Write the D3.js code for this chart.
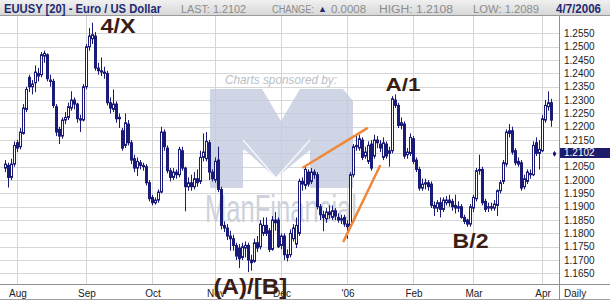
<!DOCTYPE html>
<html lang="en">
<head>
<meta charset="UTF-8">
<title>EUUSY - Euro / US Dollar</title>
<script src="https://cdn.jsdelivr.net/npm/d3@7"></script>
<style>
  body { margin: 0; background: #fff; }
  svg { display: block; font-family: Arial, "Liberation Sans", sans-serif; }
</style>
</head>
<body>
<svg id="chart" width="610" height="300"></svg>
<script>
// daily candles, 26 Jul 2005 .. 7 Apr 2006
const opens = [
  1.2045,1.2055,1.2010,1.2060,1.2140,1.2125,1.2175,1.2265,1.2385,1.2350,
  1.2365,1.2400,1.2395,1.2465,1.2470,1.2375,1.2370,1.2275,1.2190,1.2165,
  1.2225,1.2235,1.2270,1.2300,1.2285,1.2230,1.2225,1.2350,1.2500,1.2530,
  1.2540,1.2420,1.2410,1.2405,1.2400,1.2290,1.2265,1.2285,1.2230,1.2185,
  1.2130,1.2210,1.2140,1.2080,1.2045,1.2065,1.2055,1.2050,1.1990,1.1935,
  1.1915,1.1925,1.1955,1.2180,1.2120,1.2035,1.2010,1.2030,1.2020,1.2110,
  1.2045,1.1975,1.1990,1.1975,1.2005,1.1995,1.2085,1.2080,1.2140,1.2030,
  1.2000,1.2075,1.1965,1.1830,1.1820,1.1790,1.1780,1.1755,1.1745,1.1710,
  1.1745,1.1755,1.1700,1.1695,1.1765,1.1750,1.1800,1.1830,1.1810,1.1740,
  1.1850,1.1850,1.1755,1.1790,1.1720,1.1720,1.1780,1.1760,1.1800,1.1995,
  1.1980,1.2030,1.1995,1.2030,1.2020,1.1900,1.1870,1.1855,1.1880,1.1860,
  1.1885,1.1860,1.1850,1.1860,1.1835,1.1830,1.2020,1.2125,1.2120,1.2150,
  1.2090,1.2070,1.2135,1.2090,1.2150,1.2135,1.2085,1.2135,1.2100,1.2110,
  1.2300,1.2280,1.2205,1.2210,1.2095,1.2100,1.2155,1.2075,1.2040,1.1970,
  1.1985,1.1990,1.1985,1.1905,1.1895,1.1915,1.1890,1.1915,1.1925,1.1920,
  1.1905,1.1900,1.1900,1.1860,1.1850,1.1835,1.1895,1.1930,1.2035,1.2040,
  1.1920,1.1895,1.1900,1.1895,1.1905,1.1960,1.1995,1.2060,1.2175,1.2185,
  1.2110,1.2070,1.2065,1.1975,1.1995,1.2025,1.2020,1.2140,1.2100,1.2110,
  1.2225,1.2275,1.2290,1.2095
];
const highs = [
  1.2075,1.2065,1.2080,1.2145,1.2150,1.2195,1.2285,1.2350,1.2395,1.2375,
  1.2430,1.2420,1.2480,1.2485,1.2475,1.2395,1.2380,1.2285,1.2200,1.2235,
  1.2255,1.2290,1.2333,1.2310,1.2290,1.2245,1.2360,1.2510,1.2570,1.2590,
  1.2555,1.2440,1.2460,1.2425,1.2410,1.2310,1.2340,1.2295,1.2250,1.2195,
  1.2250,1.2225,1.2150,1.2095,1.2085,1.2075,1.2065,1.2060,1.2000,1.1945,
  1.1935,1.1965,1.2200,1.2190,1.2130,1.2045,1.2045,1.2040,1.2125,1.2125,
  1.2050,1.2010,1.2020,1.2030,1.2040,1.2110,1.2175,1.2180,1.2150,1.2040,
  1.2085,1.2125,1.1975,1.1845,1.1835,1.1810,1.1795,1.1765,1.1760,1.1765,
  1.1770,1.1765,1.1720,1.1780,1.1790,1.1850,1.1860,1.1860,1.1820,1.1865,
  1.1880,1.1860,1.1800,1.1800,1.1740,1.1815,1.1835,1.1860,1.2005,1.2010,
  1.2050,1.2040,1.2045,1.2040,1.2030,1.1910,1.1885,1.1895,1.1905,1.1905,
  1.1895,1.1875,1.1870,1.1870,1.1850,1.2030,1.2135,1.2165,1.2170,1.2160,
  1.2125,1.2145,1.2150,1.2170,1.2165,1.2150,1.2160,1.2145,1.2125,1.2315,
  1.2321,1.2290,1.2235,1.2220,1.2120,1.2175,1.2165,1.2085,1.2050,1.2005,
  1.2005,1.2000,1.1995,1.1920,1.1925,1.1935,1.1935,1.1940,1.1945,1.1930,
  1.1945,1.1920,1.1910,1.1870,1.1855,1.1910,1.1945,1.2045,1.2095,1.2050,
  1.1930,1.1915,1.1915,1.1925,1.1965,1.2000,1.2075,1.2190,1.2210,1.2200,
  1.2120,1.2085,1.2075,1.2020,1.2040,1.2040,1.2145,1.2160,1.2150,1.2245,
  1.2300,1.2333,1.2305,1.2108
];
const lows = [
  1.2030,1.1972,1.2000,1.2050,1.2105,1.2115,1.2170,1.2255,1.2330,1.2321,
  1.2330,1.2370,1.2385,1.2440,1.2370,1.2350,1.2270,1.2165,1.2135,1.2155,
  1.2210,1.2225,1.2260,1.2265,1.2215,1.2180,1.2220,1.2340,1.2485,1.2510,
  1.2410,1.2395,1.2390,1.2380,1.2280,1.2250,1.2255,1.2215,1.2195,1.2110,
  1.2120,1.2130,1.2060,1.2030,1.2015,1.2040,1.2035,1.1980,1.1920,1.1905,
  1.1908,1.1915,1.1950,1.2110,1.2025,1.1995,1.2000,1.2005,1.2010,1.2035,
  1.1883,1.1960,1.1960,1.1965,1.1975,1.1985,1.2070,1.2070,1.2000,1.1995,
  1.1990,1.1955,1.1815,1.1805,1.1775,1.1735,1.1735,1.1700,1.1670,1.1700,
  1.1710,1.1655,1.1660,1.1690,1.1730,1.1740,1.1790,1.1790,1.1730,1.1735,
  1.1810,1.1745,1.1740,1.1700,1.1695,1.1710,1.1770,1.1745,1.1790,1.1960,
  1.1965,1.1975,1.1985,1.2005,1.1890,1.1850,1.1808,1.1840,1.1855,1.1850,
  1.1850,1.1840,1.1835,1.1825,1.1780,1.1820,1.2010,1.2110,1.2110,1.2075,
  1.2080,1.2060,1.2035,1.2080,1.2120,1.2105,1.2075,1.2080,1.2050,1.2100,
  1.2270,1.2195,1.2190,1.2080,1.2080,1.2090,1.2060,1.2030,1.1960,1.1960,
  1.1965,1.1960,1.1895,1.1865,1.1880,1.1860,1.1880,1.1905,1.1900,1.1885,
  1.1875,1.1880,1.1855,1.1835,1.1825,1.1825,1.1880,1.1920,1.2020,1.1905,
  1.1880,1.1880,1.1885,1.1885,1.1865,1.1950,1.1985,1.2050,1.2160,1.2095,
  1.2055,1.2050,1.1960,1.1965,1.1985,1.2005,1.2015,1.2090,1.2040,1.2105,
  1.2215,1.2260,1.2200,1.2089
];
const closes = [
  1.2060,1.2010,1.2060,1.2130,1.2120,1.2180,1.2270,1.2340,1.2350,1.2360,
  1.2405,1.2390,1.2470,1.2475,1.2380,1.2370,1.2280,1.2180,1.2165,1.2225,
  1.2235,1.2275,1.2300,1.2285,1.2230,1.2225,1.2350,1.2500,1.2540,1.2545,
  1.2420,1.2410,1.2405,1.2400,1.2290,1.2270,1.2285,1.2230,1.2235,1.2120,
  1.2215,1.2140,1.2075,1.2045,1.2070,1.2055,1.2050,1.1990,1.1930,1.1915,
  1.1925,1.1955,1.2180,1.2125,1.2035,1.2010,1.2030,1.2020,1.2115,1.2045,
  1.1975,1.1990,1.1975,1.2005,1.1990,1.2085,1.2105,1.2145,1.2030,1.2005,
  1.2070,1.1965,1.1830,1.1820,1.1790,1.1780,1.1755,1.1715,1.1705,1.1750,
  1.1755,1.1700,1.1690,1.1765,1.1745,1.1835,1.1830,1.1800,1.1740,1.1850,
  1.1840,1.1750,1.1790,1.1720,1.1710,1.1800,1.1820,1.1830,1.1995,1.1985,
  1.2040,1.1985,1.2030,1.2020,1.1900,1.1870,1.1860,1.1880,1.1870,1.1885,
  1.1865,1.1850,1.1855,1.1835,1.1825,1.2020,1.2125,1.2130,1.2155,1.2085,
  1.2105,1.2130,1.2045,1.2150,1.2140,1.2120,1.2140,1.2090,1.2110,1.2305,
  1.2280,1.2205,1.2215,1.2090,1.2105,1.2160,1.2070,1.2040,1.1970,1.1985,
  1.1990,1.1975,1.1905,1.1895,1.1915,1.1890,1.1925,1.1925,1.1915,1.1900,
  1.1895,1.1895,1.1860,1.1845,1.1835,1.1900,1.1935,1.2035,1.2040,1.1915,
  1.1890,1.1900,1.1895,1.1910,1.1960,1.1990,1.2065,1.2180,1.2185,1.2105,
  1.2065,1.2060,1.1970,1.2005,1.2030,1.2020,1.2130,1.2100,1.2115,1.2230,
  1.2280,1.2290,1.2225,1.2102
];

const monthIdx = [4, 27, 49, 70, 92, 114, 136, 156, 179];
const monthLabels = ["Aug", "Sep", "Oct", "Nov", "Dec", "'06", "Feb", "Mar", "Apr"];
const priceTicks = [1.1650, 1.1700, 1.1750, 1.1800, 1.1850, 1.1900, 1.1950, 1.2000, 1.2050,
  1.2100, 1.2150, 1.2200, 1.2250, 1.2300, 1.2350, 1.2400, 1.2450, 1.2500, 1.2550];
const lastPrice = 1.2102;

// wave labels and hand-drawn trend lines, placed by candle index / price
const waveLabels = [
  { text: "4/X", i: 31.7, p: 1.2550, w: 35, size: 20 },
  { text: "A/1", i: 126.7, p: 1.2335, w: 35, size: 19 },
  { text: "B/2", i: 149, p: 1.1746, w: 36, size: 20 },
  { text: "(A)/[B]", i: 69.3, p: 1.1573, w: 74, size: 22 }
];
const trendLines = [
  { i0: 99.3, p0: 1.2048, i1: 120.5, p1: 1.2194 },
  { i0: 112.7, p0: 1.1771, i1: 124.8, p1: 1.2053 }
];

const navy = "#1a1a78";
const svg = d3.select("#chart");
const W = 610, plotRight = 559.5, axisY = 284.5;

const x = d3.scaleLinear().domain([0, closes.length - 1]).range([5.5, 554.5]);
const y = d3.scaleLinear().domain([1.1650, 1.2550]).range([273.4, 33.4]);

svg.append("rect").attr("width", W).attr("height", 300).attr("fill", "#fff");

// grid
svg.append("g").selectAll("line").data(priceTicks).join("line")
  .attr("x1", 0).attr("x2", plotRight)
  .attr("y1", d => Math.round(y(d)) + 0.5).attr("y2", d => Math.round(y(d)) + 0.5)
  .attr("stroke", "#d6d6d6");
svg.append("g").selectAll("line").data(monthIdx).join("line")
  .attr("x1", d => x(d)).attr("x2", d => x(d))
  .attr("y1", 16).attr("y2", axisY)
  .attr("stroke", "#d6d6d6");

// sponsor watermark
const wm = svg.append("g");
wm.append("path")
  .attr("d", "M210,89 L262,89 L281,121 L300,89 L343,89 L353,101 L353,188 L310,188 L310,150 L276,178 L245,150 L243,150 L243,188 L210,188 Z")
  .attr("fill", "#c3cbdf").attr("opacity", 0.8);
wm.append("path")
  .attr("d", "M243,140 L276,178 L310,140")
  .attr("fill", "none").attr("stroke", "#fff").attr("stroke-width", 1.5).attr("opacity", 0.8);
wm.append("text").attr("x", 225).attr("y", 84)
  .attr("font-size", 13).attr("font-style", "italic").attr("fill", "#b9bfc9")
  .attr("textLength", 112).attr("lengthAdjust", "spacingAndGlyphs")
  .text("Charts sponsored by:");
wm.append("text").attr("x", 205).attr("y", 222)
  .attr("font-size", 38).attr("fill", "#cdd2dc")
  .attr("textLength", 152).attr("lengthAdjust", "spacingAndGlyphs")
  .text("ManFinancial");

// candles
const idx = d3.range(closes.length);
const cg = svg.append("g");
cg.selectAll("line").data(idx).join("line")
  .attr("x1", i => x(i)).attr("x2", i => x(i))
  .attr("y1", i => y(highs[i])).attr("y2", i => y(lows[i]))
  .attr("stroke", navy);
cg.selectAll("rect").data(idx).join("rect")
  .attr("x", i => x(i) - 1).attr("width", 2)
  .attr("y", i => y(Math.max(opens[i], closes[i])))
  .attr("height", i => Math.max(1, Math.abs(y(opens[i]) - y(closes[i]))))
  .attr("fill", i => closes[i] >= opens[i] ? "#fff" : navy)
  .attr("stroke", navy).attr("stroke-width", 1);

// trend lines
svg.append("g").selectAll("line").data(trendLines).join("line")
  .attr("x1", d => x(d.i0)).attr("y1", d => y(d.p0))
  .attr("x2", d => x(d.i1)).attr("y2", d => y(d.p1))
  .attr("stroke", "#f0883a").attr("stroke-width", 2.5).attr("stroke-linecap", "round");

// right price panel
svg.append("rect").attr("x", 560).attr("y", 16).attr("width", 50).attr("height", 268).attr("fill", "#fff");
const yAxis = svg.append("g").attr("transform", "translate(560,0)")
  .call(d3.axisRight(y).tickValues(priceTicks.filter(v => v !== 1.21))
    .tickSize(0).tickPadding(4).tickFormat(d3.format(".4f")));
yAxis.select(".domain").remove();
yAxis.selectAll("text").attr("font-size", 10).attr("fill", "#222").attr("font-family", "Arial, 'Liberation Sans', sans-serif");

svg.append("rect").attr("x", 560).attr("y", Math.round(y(lastPrice)) - 5)
  .attr("width", 50).attr("height", 10).attr("fill", "#1c1c6a");
svg.append("text").attr("x", 564).attr("y", y(lastPrice) + 3.6)
  .attr("font-size", 10).attr("fill", "#fff").text(d3.format(".4f")(lastPrice));

// month axis
const xAxis = svg.append("g").attr("transform", `translate(0,${axisY - 0.5})`)
  .call(d3.axisBottom(x).tickValues(monthIdx).tickSize(0).tickPadding(6)
    .tickFormat((d, k) => monthLabels[k]));
xAxis.select(".domain").remove();
xAxis.selectAll("text").attr("font-size", 10).attr("fill", "#222").attr("font-family", "Arial, 'Liberation Sans', sans-serif");
svg.append("text").attr("x", 564).attr("y", 297).attr("font-size", 10).attr("fill", "#222").text("Daily");

// frame
svg.append("line").attr("x1", 0).attr("x2", W).attr("y1", axisY).attr("y2", axisY).attr("stroke", "#8f8f8f");
svg.append("line").attr("x1", 0).attr("x2", W).attr("y1", 299.5).attr("y2", 299.5).attr("stroke", "#a0a0a0");
svg.append("line").attr("x1", plotRight).attr("x2", plotRight).attr("y1", 15).attr("y2", 300).attr("stroke", "#8f8f8f");

// wave labels (the (A)/[B] label sits over the Nov/Dec month labels, as in the original)
svg.append("g").selectAll("text").data(waveLabels).join("text")
  .attr("x", d => x(d.i)).attr("y", d => y(d.p))
  .attr("font-size", d => d.size).attr("font-weight", "bold").attr("fill", "#3b1d14")
  .attr("textLength", d => d.w).attr("lengthAdjust", "spacingAndGlyphs")
  .text(d => d.text);

// header bar
const grad = svg.append("defs").append("linearGradient").attr("id", "hdr")
  .attr("x1", 0).attr("y1", 0).attr("x2", 0).attr("y2", 1);
grad.append("stop").attr("offset", 0).attr("stop-color", "#f0f0f0");
grad.append("stop").attr("offset", 1).attr("stop-color", "#d8d8d8");
svg.append("rect").attr("width", W).attr("height", 15).attr("fill", "url(#hdr)");
svg.append("line").attr("x1", 0).attr("x2", W).attr("y1", 15.5).attr("y2", 15.5).attr("stroke", "#9a9a9a");

const hdr = svg.append("g");
hdr.append("text").attr("x", 4).attr("y", 12.5)
  .attr("font-size", 13).attr("font-weight", "bold").attr("fill", "#1f2a72")
  .attr("textLength", 157).attr("lengthAdjust", "spacingAndGlyphs")
  .text("EUUSY [20] - Euro / US Dollar");
const grey = [
  { t: "LAST: 1.2102", x: 181, w: 65 },
  { t: "CHANGE:", x: 272, w: 42 },
  { t: "0.0008", x: 331, w: 35 },
  { t: "HIGH: 1.2108", x: 379, w: 74 },
  { t: "LOW: 1.2089", x: 473, w: 66 }
];
hdr.selectAll("text.g").data(grey).join("text").attr("class", "g")
  .attr("x", d => d.x).attr("y", 12.5).attr("font-size", 10).attr("fill", "#8c8c8c")
  .attr("textLength", d => d.w).attr("lengthAdjust", "spacingAndGlyphs")
  .text(d => d.t);
hdr.append("text").attr("x", 318).attr("y", 12).attr("font-size", 9).attr("fill", "#1f2a72").text("▲");
hdr.append("text").attr("x", 556).attr("y", 12.5)
  .attr("font-size", 12).attr("font-weight", "bold").attr("fill", "#1f2a72")
  .attr("textLength", 45).attr("lengthAdjust", "spacingAndGlyphs")
  .text("4/7/2006");
</script>
</body>
</html>
